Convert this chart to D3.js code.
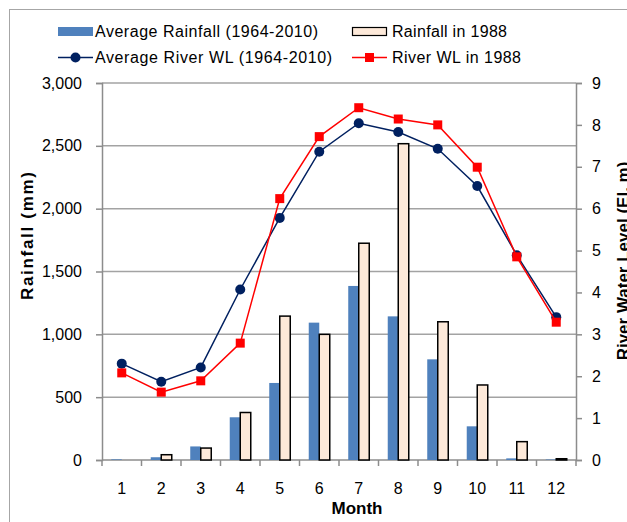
<!DOCTYPE html>
<html>
<head>
<meta charset="utf-8">
<script src="https://cdn.jsdelivr.net/npm/d3@7"></script>
<style>
  html, body { margin: 0; padding: 0; background: #fff; }
  svg { display: block; font-family: "Liberation Sans", Arial, sans-serif; }
</style>
</head>
<body>
<svg id="chart" width="627" height="522"></svg>
<script>
// Monthly rainfall and river water level
const months = ["1", "2", "3", "4", "5", "6", "7", "8", "9", "10", "11", "12"];
const rainAvg = [5, 22, 108, 340, 613, 1093, 1385, 1143, 801, 268, 13, 4];
const rain1988 = [0, 42, 95, 378, 1145, 1000, 1725, 2517, 1100, 597, 146, 10];
const wlAvg = [2.30, 1.87, 2.21, 4.07, 5.78, 7.36, 8.04, 7.83, 7.43, 6.54, 4.89, 3.41];
const wl1988 = [2.08, 1.62, 1.89, 2.79, 6.24, 7.72, 8.41, 8.14, 8.00, 6.99, 4.85, 3.29];
const rainTicks = [0, 500, 1000, 1500, 2000, 2500, 3000];
const wlTicks = [0, 1, 2, 3, 4, 5, 6, 7, 8, 9];

const seriesNames = {
  rainAvg: "Average Rainfall (1964-2010)",
  rain1988: "Rainfall in 1988",
  wlAvg: "Average River WL (1964-2010)",
  wl1988: "River WL in 1988"
};

const colors = {
  blue: "#4f81bd",
  cream: "#fde9d9",
  navy: "#002060",
  red: "#ff0000",
  grid: "#a3a3a3",
  axis: "#8c8c8c"
};

const svg = d3.select("#chart");
const plot = { left: 102, right: 576, top: 83, bottom: 460 };

const x = d3.scaleBand().domain(months).range([plot.left, plot.right]);
const yRain = d3.scaleLinear().domain([0, 3000]).range([plot.bottom, plot.top]);
const yWL = d3.scaleLinear().domain([0, 9]).range([plot.bottom, plot.top]);
const barW = x.bandwidth() * 0.266;

// outer chart frame
svg.append("rect")
  .attr("x", 9.5).attr("y", 9.5).attr("width", 640).attr("height", 540)
  .attr("fill", "none").attr("stroke", "#a6a6a6").attr("stroke-width", 1);

// horizontal gridlines
svg.append("g").selectAll("line").data(rainTicks.filter(d => d > 0)).join("line")
  .attr("x1", plot.left).attr("x2", plot.right)
  .attr("y1", d => yRain(d)).attr("y2", d => yRain(d))
  .attr("stroke", colors.grid).attr("stroke-width", 1.5);

// left axis
const leftAxis = svg.append("g").attr("transform", `translate(${plot.left},0)`)
  .call(d3.axisLeft(yRain).tickValues(rainTicks).tickFormat(d3.format(",")).tickSize(6).tickPadding(14));
// right axis
const rightAxis = svg.append("g").attr("transform", `translate(${plot.right},0)`)
  .call(d3.axisRight(yWL).tickValues(wlTicks).tickFormat(d3.format("d")).tickSize(6).tickPadding(10));
// bottom axis: ticks between categories
const xAxis = svg.append("g").attr("transform", `translate(0,${plot.bottom})`)
  .call(d3.axisBottom(x).tickSize(0).tickPadding(23));
xAxis.selectAll(".catTick")
  .data(d3.range(months.length + 1)).join("line").attr("class", "catTick")
  .attr("x1", i => plot.left + i * x.step()).attr("x2", i => plot.left + i * x.step())
  .attr("y1", 0).attr("y2", 6);

[leftAxis, rightAxis, xAxis].forEach(g => {
  g.select(".domain").attr("stroke", colors.axis).attr("stroke-width", 1.5);
  g.selectAll("line").attr("stroke", colors.axis).attr("stroke-width", 1.5);
  g.selectAll("text").attr("font-size", 16).attr("fill", "#000")
    .attr("font-family", "'Liberation Sans', Arial, sans-serif");
});
xAxis.select(".domain").attr("d", `M${plot.left},0H${plot.right}`);

// bars
svg.append("g").selectAll("rect").data(rainAvg).join("rect")
  .attr("x", (d, i) => x(months[i]) + x.bandwidth() / 2 - barW)
  .attr("y", d => yRain(d))
  .attr("width", barW)
  .attr("height", d => yRain(0) - yRain(d))
  .attr("fill", colors.blue);

svg.append("g").selectAll("rect").data(rain1988).join("rect")
  .attr("x", (d, i) => x(months[i]) + x.bandwidth() / 2)
  .attr("y", d => yRain(d))
  .attr("width", barW)
  .attr("height", d => yRain(0) - yRain(d))
  .attr("fill", colors.cream)
  .attr("stroke", "#000").attr("stroke-width", 1.5);

// water level lines
const cx = i => x(months[i]) + x.bandwidth() / 2;
const lineAvg = d3.line().x((d, i) => cx(i)).y(d => yWL(d));

svg.append("path").datum(wlAvg).attr("d", lineAvg)
  .attr("fill", "none").attr("stroke", colors.navy).attr("stroke-width", 1.5);
svg.append("g").selectAll("circle").data(wlAvg).join("circle")
  .attr("cx", (d, i) => cx(i)).attr("cy", d => yWL(d)).attr("r", 5)
  .attr("fill", colors.navy);

svg.append("path").datum(wl1988).attr("d", lineAvg)
  .attr("fill", "none").attr("stroke", colors.red).attr("stroke-width", 1.5);
svg.append("g").selectAll("rect").data(wl1988).join("rect")
  .attr("x", (d, i) => cx(i) - 4.5).attr("y", d => yWL(d) - 4.5)
  .attr("width", 9).attr("height", 9)
  .attr("fill", colors.red);

// axis titles
svg.append("text")
  .attr("transform", "translate(33,236) rotate(-90)")
  .attr("text-anchor", "middle").attr("font-size", 17).attr("font-weight", "bold")
  .attr("textLength", 128).attr("lengthAdjust", "spacing")
  .text("Rainfall (mm)");
svg.append("text")
  .attr("transform", "translate(629,261) rotate(-90)")
  .attr("text-anchor", "middle").attr("font-size", 17).attr("font-weight", "bold")
  .text("River Water Level (El. m)");
svg.append("text")
  .attr("x", 357).attr("y", 514)
  .attr("text-anchor", "middle").attr("font-size", 17).attr("font-weight", "bold")
  .text("Month");

// legend
const legend = svg.append("g");
const row1 = 31.5, row2 = 57.5;
legend.append("rect").attr("x", 58).attr("y", 27).attr("width", 35).attr("height", 9)
  .attr("fill", colors.blue);
legend.append("rect").attr("x", 352.5).attr("y", 27.5).attr("width", 34).attr("height", 8)
  .attr("fill", colors.cream).attr("stroke", "#000").attr("stroke-width", 1.2);
legend.append("line").attr("x1", 58).attr("x2", 93).attr("y1", row2).attr("y2", row2)
  .attr("stroke", colors.navy).attr("stroke-width", 1.5);
legend.append("circle").attr("cx", 75.5).attr("cy", row2).attr("r", 5).attr("fill", colors.navy);
legend.append("line").attr("x1", 352).attr("x2", 387).attr("y1", row2).attr("y2", row2)
  .attr("stroke", colors.red).attr("stroke-width", 1.5);
legend.append("rect").attr("x", 365).attr("y", row2 - 4.5).attr("width", 9).attr("height", 9)
  .attr("fill", colors.red);

const legendText = [
  { key: "rainAvg", x: 95, y: row1, w: 223 },
  { key: "rain1988", x: 392, y: row1, w: 115 },
  { key: "wlAvg", x: 95, y: row2, w: 237 },
  { key: "wl1988", x: 392, y: row2, w: 129 }
];
legend.selectAll("text").data(legendText).join("text")
  .attr("x", d => d.x).attr("y", d => d.y).attr("dy", "0.35em")
  .attr("font-size", 16)
  .attr("textLength", d => d.w).attr("lengthAdjust", "spacing")
  .text(d => seriesNames[d.key]);
</script>
</body>
</html>
